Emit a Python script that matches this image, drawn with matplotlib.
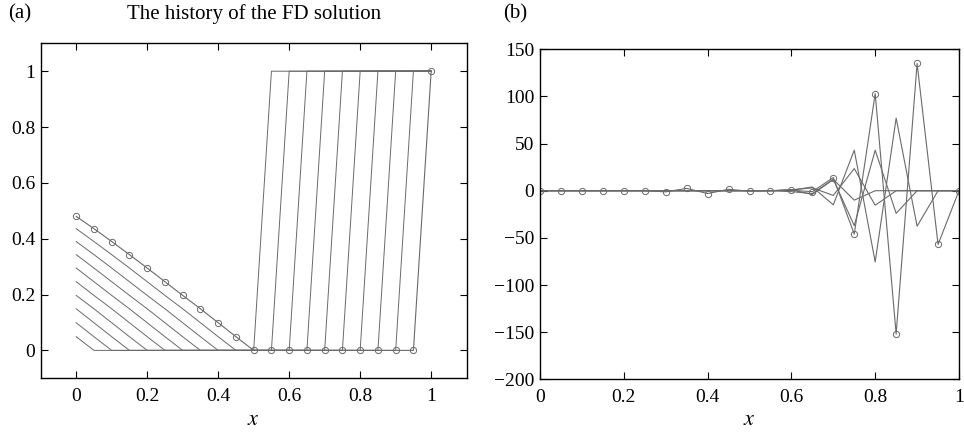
import numpy as np
import matplotlib
matplotlib.use("Agg")
import matplotlib.pyplot as plt
from matplotlib.ticker import FuncFormatter

plt.rcParams['font.family'] = ['Liberation Serif', 'DejaVu Serif']
plt.rcParams['mathtext.fontset'] = 'stix'

# grid x = 0, 0.05, ..., 1
x = np.linspace(0, 1, 21)

# (a) history of the FD solution, one row per time level (last row is the final one)
hist_a = [
    [0.049] + [0] * 10 + [1] * 10,
    [0.099, 0.049] + [0] * 10 + [1] * 9,
    [0.149, 0.099, 0.049] + [0] * 10 + [1] * 8,
    [0.197, 0.149, 0.099, 0.049] + [0] * 10 + [1] * 7,
    [0.246, 0.197, 0.149, 0.099, 0.049] + [0] * 10 + [1] * 6,
    [0.295, 0.246, 0.197, 0.149, 0.099, 0.049] + [0] * 10 + [1] * 5,
    [0.343, 0.295, 0.246, 0.197, 0.149, 0.099, 0.049] + [0] * 10 + [1] * 4,
    [0.39, 0.343, 0.295, 0.246, 0.197, 0.149, 0.099, 0.049] + [0] * 10 + [1] * 3,
    [0.436, 0.39, 0.343, 0.295, 0.246, 0.197, 0.149, 0.099, 0.049] + [0] * 10 + [1] * 2,
    [0.48, 0.436, 0.39, 0.343, 0.295, 0.246, 0.197, 0.149, 0.099, 0.049] + [0] * 10 + [1],
]

# (b) unstable run, last row is the final one
hist_b = [
    [0] * 12 + [1, -4, 12, -10, 0, 0, 0, 0, 0],
    [0] * 12 + [1, 3, -5, 23.5, -15.4, 0, 0, 0, 0],
    [0] * 12 + [-1, -3, 12, -37, 43, -24, 0, 0, 0],
    [0] * 12 + [0.5, 4, -15, 43, -75.5, 77, -37.6, 0, 0],
    [0, 0, 0, 0, 0, 0, -1.2, 2.5, -3, 1.5, -0.5, 0, 0.5, -1,
     14, -46, 103, -152, 135, -57, 0],
]

line_col = '#6a6a6a'
fig = plt.figure(figsize=(9.64, 4.32), dpi=100)
ax1 = fig.add_axes([0.0422, 0.1243, 0.4419, 0.7755])
ax2 = fig.add_axes([0.5602, 0.1220, 0.4346, 0.7639])

for row in hist_a[:-1]:
    ax1.plot(x, row, color=line_col, lw=0.7)
ax1.plot(x, hist_a[-1], color=line_col, lw=0.8, marker='o', ms=4.5,
         mfc='none', mew=0.7)

for row in hist_b[:-1]:
    ax2.plot(x, row, color=line_col, lw=0.8)
ax2.plot(x, hist_b[-1], color=line_col, lw=0.8, marker='o', ms=4.5,
         mfc='none', mew=0.7)

fmt = FuncFormatter(lambda v, p: ('%g' % v).replace('-', '\u2212'))

ax1.set_xlim(-0.1, 1.1)
ax1.set_ylim(-0.1, 1.1)
ax1.set_xticks([0, 0.2, 0.4, 0.6, 0.8, 1])
ax1.set_yticks([0, 0.2, 0.4, 0.6, 0.8, 1])

ax2.set_xlim(0, 1)
ax2.set_ylim(-200, 150)
ax2.set_xticks([0, 0.2, 0.4, 0.6, 0.8, 1])
ax2.set_yticks([-200, -150, -100, -50, 0, 50, 100, 150])

for ax in (ax1, ax2):
    ax.xaxis.set_major_formatter(fmt)
    ax.yaxis.set_major_formatter(fmt)
    ax.tick_params(direction='in', top=True, right=True, length=5, width=0.8,
                   labelsize=14, colors='black')
    ax.tick_params(axis='x', pad=7)
    ax.tick_params(axis='y', pad=4)
    for s in ax.spines.values():
        s.set_linewidth(1.0)

fig.text(0.2632, 0.967, 'The history of the FD solution', ha='center',
         va='center', fontsize=15)
fig.text(0.008, 0.967, '(a)', ha='left', va='center', fontsize=15)
fig.text(0.522, 0.967, '(b)', ha='left', va='center', fontsize=15)
fig.text(0.2632, 0.026, '$x$', ha='center', va='center', fontsize=16)
fig.text(0.7775, 0.026, '$x$', ha='center', va='center', fontsize=16)

fig.savefig('out.png', dpi=100)
